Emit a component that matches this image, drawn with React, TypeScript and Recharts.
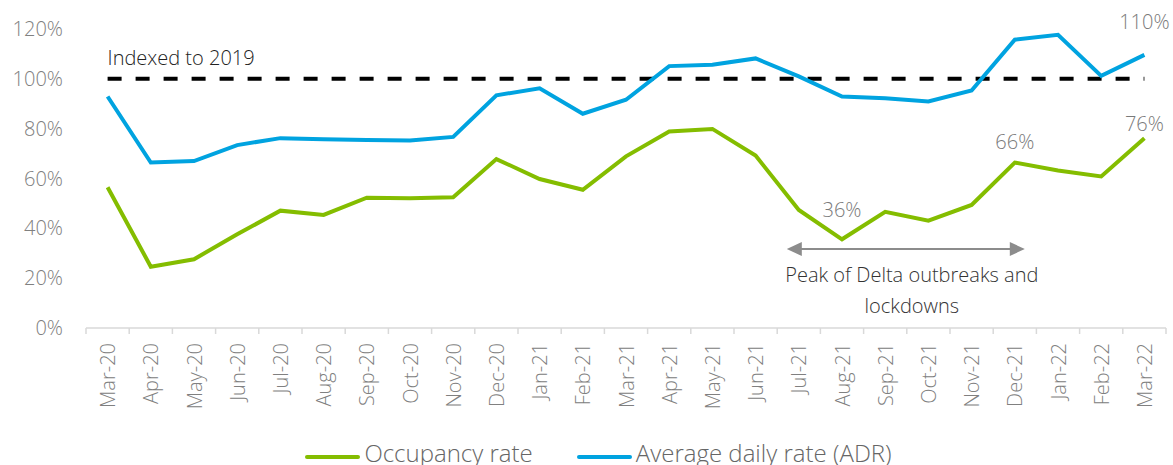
import * as React from 'react'
import {
  LineChart,
  XAxis,
  YAxis,
  Line,
  Legend,
  LabelList,
  ReferenceLine,
} from 'recharts'

const months = [
  'Mar-20', 'Apr-20', 'May-20', 'Jun-20', 'Jul-20', 'Aug-20', 'Sep-20',
  'Oct-20', 'Nov-20', 'Dec-20', 'Jan-21', 'Feb-21', 'Mar-21', 'Apr-21',
  'May-21', 'Jun-21', 'Jul-21', 'Aug-21', 'Sep-21', 'Oct-21', 'Nov-21',
  'Dec-21', 'Jan-22', 'Feb-22', 'Mar-22',
]

const occupancy = [
  56.5, 24.6, 27.6, 37.6, 47.1, 45.4, 52.3, 52.1, 52.5, 67.8, 59.8, 55.5,
  68.9, 78.9, 79.9, 69.2, 47.4, 35.6, 46.6, 43.1, 49.4, 66.4, 63.2, 60.8, 76.2,
]

const adr = [
  92.9, 66.4, 67.0, 73.4, 76.2, 75.8, 75.5, 75.3, 76.7, 93.4, 96.2, 86.0,
  91.6, 105.1, 105.7, 108.2, 101.0, 92.9, 92.2, 90.9, 95.3, 115.7, 117.7,
  101.2, 109.6,
]

const yTicks = [0, 20, 40, 60, 80, 100, 120]

// which points get a value label, and how far above the line
const occLabels: Record<string, number> = { 'Aug-21': 30, 'Dec-21': 21, 'Mar-22': 15 }
const adrLabels: Record<string, number> = { 'Mar-22': 33 }

const GREEN = '#84bd00'
const BLUE = '#00a3e0'
const FONT = '"Open Sans", sans-serif'

const data = months.map((m, i) => ({
  month: m,
  occupancy: occupancy[i],
  adr: adr[i],
}))

const W = 1173
const H = 465
const LEFT = 86
const RIGHT = 7
const HALF_BAND = (W - LEFT - RIGHT) / months.length / 2

const MonthTick = (props: any) => {
  const { x, y, payload, index } = props
  return (
    <g>
      <line x1={x - HALF_BAND} x2={x - HALF_BAND} y1={y} y2={y + 6} stroke="#d9d9d9" strokeWidth={1.5} />
      {index === months.length - 1 && (
        <line x1={x + HALF_BAND} x2={x + HALF_BAND} y1={y} y2={y + 6} stroke="#d9d9d9" strokeWidth={1.5} />
      )}
      <text
        x={x}
        y={y + 15}
        transform={`rotate(-90, ${x}, ${y + 15})`}
        textAnchor="end"
        dominantBaseline="central"
        fill="#808080"
        fontSize={20}
        fontWeight={300}
        fontFamily={FONT}
      >
        {payload.value}
      </text>
    </g>
  )
}

const valueLabel = (offsets: Record<string, number>) => (props: any) => {
  const { x, y, value, index } = props
  const dy = offsets[months[index]]
  if (dy === undefined) return null
  return (
    <text
      x={x}
      y={y - dy}
      textAnchor="middle"
      dominantBaseline="central"
      fill="#7a7a7a"
      fontSize={20}
      fontWeight={300}
      fontFamily={FONT}
    >
      {`${Math.round(value)}%`}
    </text>
  )
}

const DeltaArrow = (props: any) => {
  const { x1, y1, x2 } = props
  const a = x1 - 12
  const b = x2 + 10
  return (
    <g>
      <line x1={a + 12} x2={b - 12} y1={y1} y2={y1} stroke="#8c8c8c" strokeWidth={2} />
      <polygon points={`${a},${y1} ${a + 15},${y1 - 7} ${a + 15},${y1 + 7}`} fill="#8c8c8c" />
      <polygon points={`${b},${y1} ${b - 15},${y1 - 7} ${b - 15},${y1 + 7}`} fill="#8c8c8c" />
      <text textAnchor="middle" fill="#333" fontSize={20} fontWeight={300} fontFamily={FONT}>
        <tspan x={(a + b) / 2 + 6} y={y1 + 33}>Peak of Delta outbreaks and</tspan>
        <tspan x={(a + b) / 2 + 6} y={y1 + 64}>lockdowns</tspan>
      </text>
    </g>
  )
}

const IndexLabel = (props: any) => {
  const { viewBox } = props
  return (
    <text
      x={viewBox.x}
      y={viewBox.y - 14}
      fill="#222"
      fontSize={20}
      fontWeight={300}
      fontFamily={FONT}
    >
      Indexed to 2019
    </text>
  )
}

const legendItems = [
  { name: 'Occupancy rate', color: GREEN },
  { name: 'Average daily rate (ADR)', color: BLUE },
]

const LegendContent = () => (
  <div
    style={{
      display: 'flex',
      justifyContent: 'center',
      alignItems: 'center',
      height: 28,
      marginLeft: 31,
      position: 'relative',
      top: 2,
      fontFamily: FONT,
      fontWeight: 300,
      fontSize: 24,
      lineHeight: '28px',
      color: '#666',
      whiteSpace: 'nowrap',
    }}
  >
    {legendItems.map((it, i) => (
      <span key={it.name} style={{ display: 'flex', alignItems: 'center', marginLeft: i ? 44 : 0 }}>
        <span
          style={{
            display: 'inline-block',
            width: 55,
            height: 4,
            borderRadius: 2,
            background: it.color,
            marginRight: 4,
            position: 'relative',
            top: 4,
          }}
        />
        {it.name}
      </span>
    ))}
  </div>
)

export default function App() {
  return (
    <div style={{ position: 'absolute', left: 0, top: 0, width: W, height: H, overflow: 'hidden', background: '#fff' }}>
      <LineChart
        width={W}
        height={H}
        data={data}
        margin={{ top: 29, right: RIGHT, left: 0, bottom: 0 }}
      >
        <XAxis
          dataKey="month"
          interval={0}
          height={109}
          padding={{ left: HALF_BAND, right: HALF_BAND }}
          tickLine={false}
          tickSize={0}
          tickMargin={0}
          axisLine={{ stroke: '#d9d9d9', strokeWidth: 1.5 }}
          tick={<MonthTick />}
        />
        <YAxis
          width={LEFT}
          domain={[0, 120]}
          ticks={yTicks}
          axisLine={false}
          tickLine={false}
          tickSize={0}
          tickMargin={23}
          tickFormatter={(v: number) => `${v}%`}
          tick={{ fill: '#808080', fontSize: 20, fontWeight: 300, fontFamily: FONT }}
        />
        <ReferenceLine
          segment={[{ x: 'Mar-20', y: 100 }, { x: 'Mar-22', y: 100 }]}
          stroke="#000"
          strokeWidth={4}
          strokeDasharray="14 14"
          label={<IndexLabel />}
        />
        <ReferenceLine
          segment={[{ x: 'Jul-21', y: 31.7 }, { x: 'Dec-21', y: 31.7 }]}
          shape={<DeltaArrow />}
        />
        <Line
          dataKey="adr"
          name="Average daily rate (ADR)"
          stroke={BLUE}
          strokeWidth={4}
          dot={false}
          isAnimationActive={false}
        >
          <LabelList dataKey="adr" content={valueLabel(adrLabels)} />
        </Line>
        <Line
          dataKey="occupancy"
          name="Occupancy rate"
          stroke={GREEN}
          strokeWidth={4}
          dot={false}
          isAnimationActive={false}
        >
          <LabelList dataKey="occupancy" content={valueLabel(occLabels)} />
        </Line>
        <Legend verticalAlign="bottom" content={<LegendContent />} />
      </LineChart>
    </div>
  )
}
